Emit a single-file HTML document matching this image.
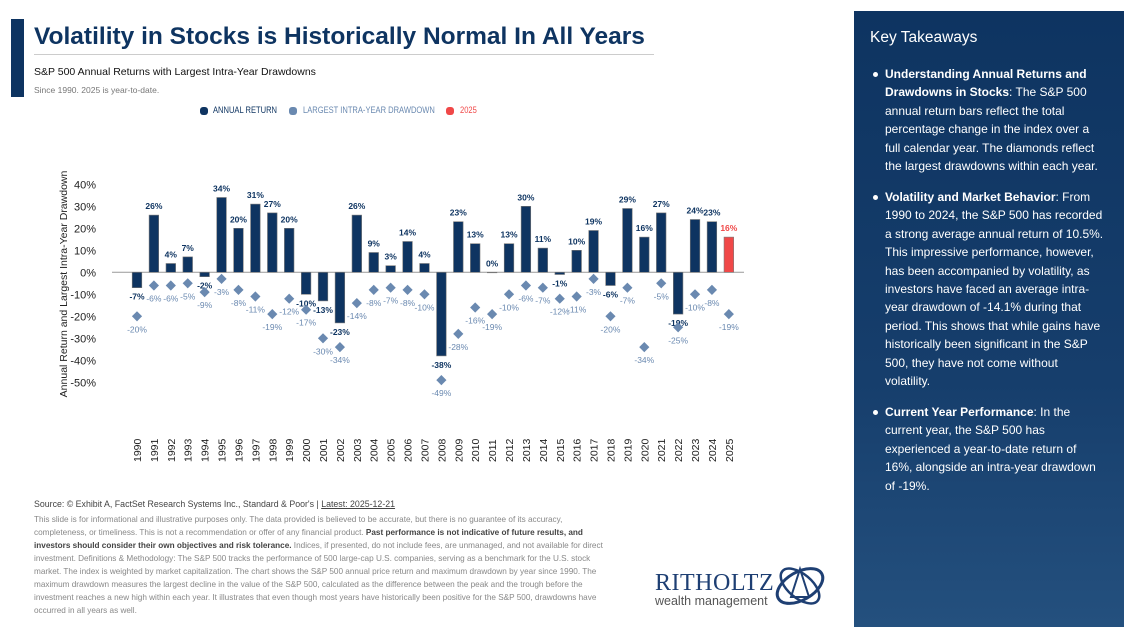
<!DOCTYPE html>
<html><head><meta charset="utf-8"><style>
body{margin:0;width:1134px;height:639px;background:#fff;font-family:"Liberation Sans",sans-serif;position:relative;overflow:hidden}
.abs{position:absolute}
#panel{left:854px;top:11px;width:270px;height:616px;background:linear-gradient(180deg,#0e3461 0%,#163e6c 60%,#24507e 100%)}
#panel h2{margin:0;position:absolute;left:16px;top:18px;font-size:15.5px;font-weight:normal;color:#fff}
.tk{position:absolute;left:31px;width:220px;color:#fff;font-size:12px;line-height:18.4px}
.tk:before{content:"";position:absolute;left:-12px;top:7px;width:5px;height:5px;border-radius:50%;background:#fff}
.tk b{font-weight:bold}
#foot{left:34px;top:498px;width:580px;font-size:8.2px;line-height:13px;color:#888}
#foot .src{color:#444;font-size:8.8px;margin-bottom:2px}
.lg{position:absolute;top:105px;font-size:9px;white-space:nowrap;transform-origin:0 0;transform:scaleX(0.84)}
.dot{position:absolute;top:107px;width:8px;height:8px;border-radius:3px}
</style></head><body>
<div class="abs" style="left:11px;top:19px;width:13px;height:78px;background:#0e3461"></div>
<div class="abs" style="left:34px;top:23px;font-size:24.5px;font-weight:bold;color:#0e3461">Volatility in Stocks is Historically Normal In All Years</div>
<div class="abs" style="left:34px;top:54px;width:620px;height:1px;background:#ccc"></div>
<div class="abs" style="left:34px;top:66px;font-size:10.5px;color:#111">S&amp;P 500 Annual Returns with Largest Intra-Year Drawdowns</div>
<div class="abs" style="left:34px;top:85px;font-size:8.5px;color:#777">Since 1990. 2025 is year-to-date.</div>
<div>
<div class="dot" style="left:200px;background:#0e3461"></div>
<div class="lg" style="left:213px;color:#0e3461">ANNUAL RETURN</div>
<div class="dot" style="left:289px;background:#6a89b0"></div>
<div class="lg" style="left:303px;color:#6a89b0">LARGEST INTRA-YEAR DRAWDOWN</div>
<div class="dot" style="left:446px;background:#f04848"></div>
<div class="lg" style="left:460px;color:#f04848">2025</div>
</div>
<svg id="chart" class="abs" style="left:0;top:0" width="850" height="500"></svg>
<div id="foot" class="abs"><div class="src">Source: © Exhibit A, FactSet Research Systems Inc., Standard &amp; Poor's | <u>Latest: 2025-12-21</u></div>This slide is for informational and illustrative purposes only. The data provided is believed to be accurate, but there is no guarantee of its accuracy, completeness, or timeliness. This is not a recommendation or offer of any financial product. <b style="color:#444">Past performance is not indicative of future results, and investors should consider their own objectives and risk tolerance.</b> Indices, if presented, do not include fees, are unmanaged, and not available for direct investment. Definitions &amp; Methodology: The S&amp;P 500 tracks the performance of 500 large-cap U.S. companies, serving as a benchmark for the U.S. stock market. The index is weighted by market capitalization. The chart shows the S&amp;P 500 annual price return and maximum drawdown by year since 1990. The maximum drawdown measures the largest decline in the value of the S&amp;P 500, calculated as the difference between the peak and the trough before the investment reaches a new high within each year. It illustrates that even though most years have historically been positive for the S&amp;P 500, drawdowns have occurred in all years as well.</div>
<div class="abs" style="left:655px;top:572px">
<div style="font-family:'Liberation Serif',serif;font-size:24px;color:#1e3f73;line-height:22px;letter-spacing:0.5px">RITHOLTZ</div>
<div style="font-size:12.5px;color:#555;line-height:14px">wealth management</div>
<svg class="abs" style="left:116px;top:-12px" width="58" height="52"><ellipse cx="29" cy="26" rx="25" ry="14" fill="none" stroke="#1e3f73" stroke-width="3" transform="rotate(-30 29 26)"/><ellipse cx="29" cy="26" rx="23" ry="12" fill="none" stroke="#1e3f73" stroke-width="2.5" transform="rotate(40 29 26)"/><path d="M29 9 L38 37 L20 37Z" fill="none" stroke="#1e3f73" stroke-width="2"/></svg>
</div>
<div id="panel" class="abs">
<h2>Key Takeaways</h2>
<div class="tk" style="top:54px"><b>Understanding Annual Returns and Drawdowns in Stocks</b>: The S&amp;P 500 annual return bars reflect the total percentage change in the index over a full calendar year. The diamonds reflect the largest drawdowns within each year.</div>
<div class="tk" style="top:177px"><b>Volatility and Market Behavior</b>: From 1990 to 2024, the S&amp;P 500 has recorded a strong average annual return of 10.5%. This impressive performance, however, has been accompanied by volatility, as investors have faced an average intra-year drawdown of -14.1% during that period. This shows that while gains have historically been significant in the S&amp;P 500, they have not come without volatility.</div>
<div class="tk" style="top:392px"><b>Current Year Performance</b>: In the current year, the S&amp;P 500 has experienced a year-to-date return of 16%, alongside an intra-year drawdown of -19%.</div>
</div>
<script>
const years=[1990,1991,1992,1993,1994,1995,1996,1997,1998,1999,2000,2001,2002,2003,2004,2005,2006,2007,2008,2009,2010,2011,2012,2013,2014,2015,2016,2017,2018,2019,2020,2021,2022,2023,2024,2025];
const returns=[-7,26,4,7,-2,34,20,31,27,20,-10,-13,-23,26,9,3,14,4,-38,23,13,0,13,30,11,-1,10,19,-6,29,16,27,-19,24,23,16];
const drawdowns=[-20,-6,-6,-5,-9,-3,-8,-11,-19,-12,-17,-30,-34,-14,-8,-7,-8,-10,-49,-28,-16,-19,-10,-6,-7,-12,-11,-3,-20,-7,-34,-5,-25,-10,-8,-19];
const yTicks=[40,30,20,10,0,-10,-20,-30,-40,-50];
const NS="http://www.w3.org/2000/svg";
const svg=document.getElementById('chart');
const x=i=>137+i*16.91;
const y=v=>272.3-v*2.2;
function mk(t,a,txt){const e=document.createElementNS(NS,t);for(const k in a)e.setAttribute(k,a[k]);if(txt!==undefined)e.textContent=txt;svg.appendChild(e);return e;}
yTicks.forEach(t=>{const e=mk('text',{x:96,y:y(t)+4,'text-anchor':'end','font-size':11,fill:'#222'},t+'%');

});
const yt=mk('text',{x:0,y:0,transform:'translate(67,284) rotate(-90)','text-anchor':'middle','font-size':10.5,fill:'#222'},'Annual Return and Largest Intra-Year Drawdown');


const zl=mk('line',{x1:112,x2:744,y1:y(0),y2:y(0),stroke:'#999','stroke-width':1});


years.forEach((yr,i)=>{
 const cx=x(i),r=returns[i],last=i===years.length-1;
 const top=Math.min(y(r),y(0)),h=Math.max(Math.abs(y(r)-y(0)),0.5);
 const b=mk('rect',{x:cx-4.8,y:top,width:9.6,height:h,fill:last?'#f04848':'#0e3461',stroke:'#777','stroke-width':0.6});
 
 
 const ly=r>=0?y(r)-6:y(r)+12;
 const l=mk('text',{x:cx,y:ly,'text-anchor':'middle','font-size':8.5,'font-weight':'bold',fill:last?'#f04848':'#0e3461'},r+'%');
 
 
 const dy=y(drawdowns[i]);
 const d=mk('rect',{x:cx-3.6,y:dy-3.6,width:7.2,height:7.2,fill:'#6a89b0',transform:`rotate(45 ${cx} ${dy})`});
 
 
 const dl=mk('text',{x:cx,y:dy+16,'text-anchor':'middle','font-size':8.5,fill:'#6a89b0'},drawdowns[i]+'%');
 
 
 const xl=mk('text',{x:0,y:0,transform:`translate(${cx+4},${462}) rotate(-90)`,'font-size':10.5,fill:'#222'},yr);
 
 
});
</script>
</body></html>
